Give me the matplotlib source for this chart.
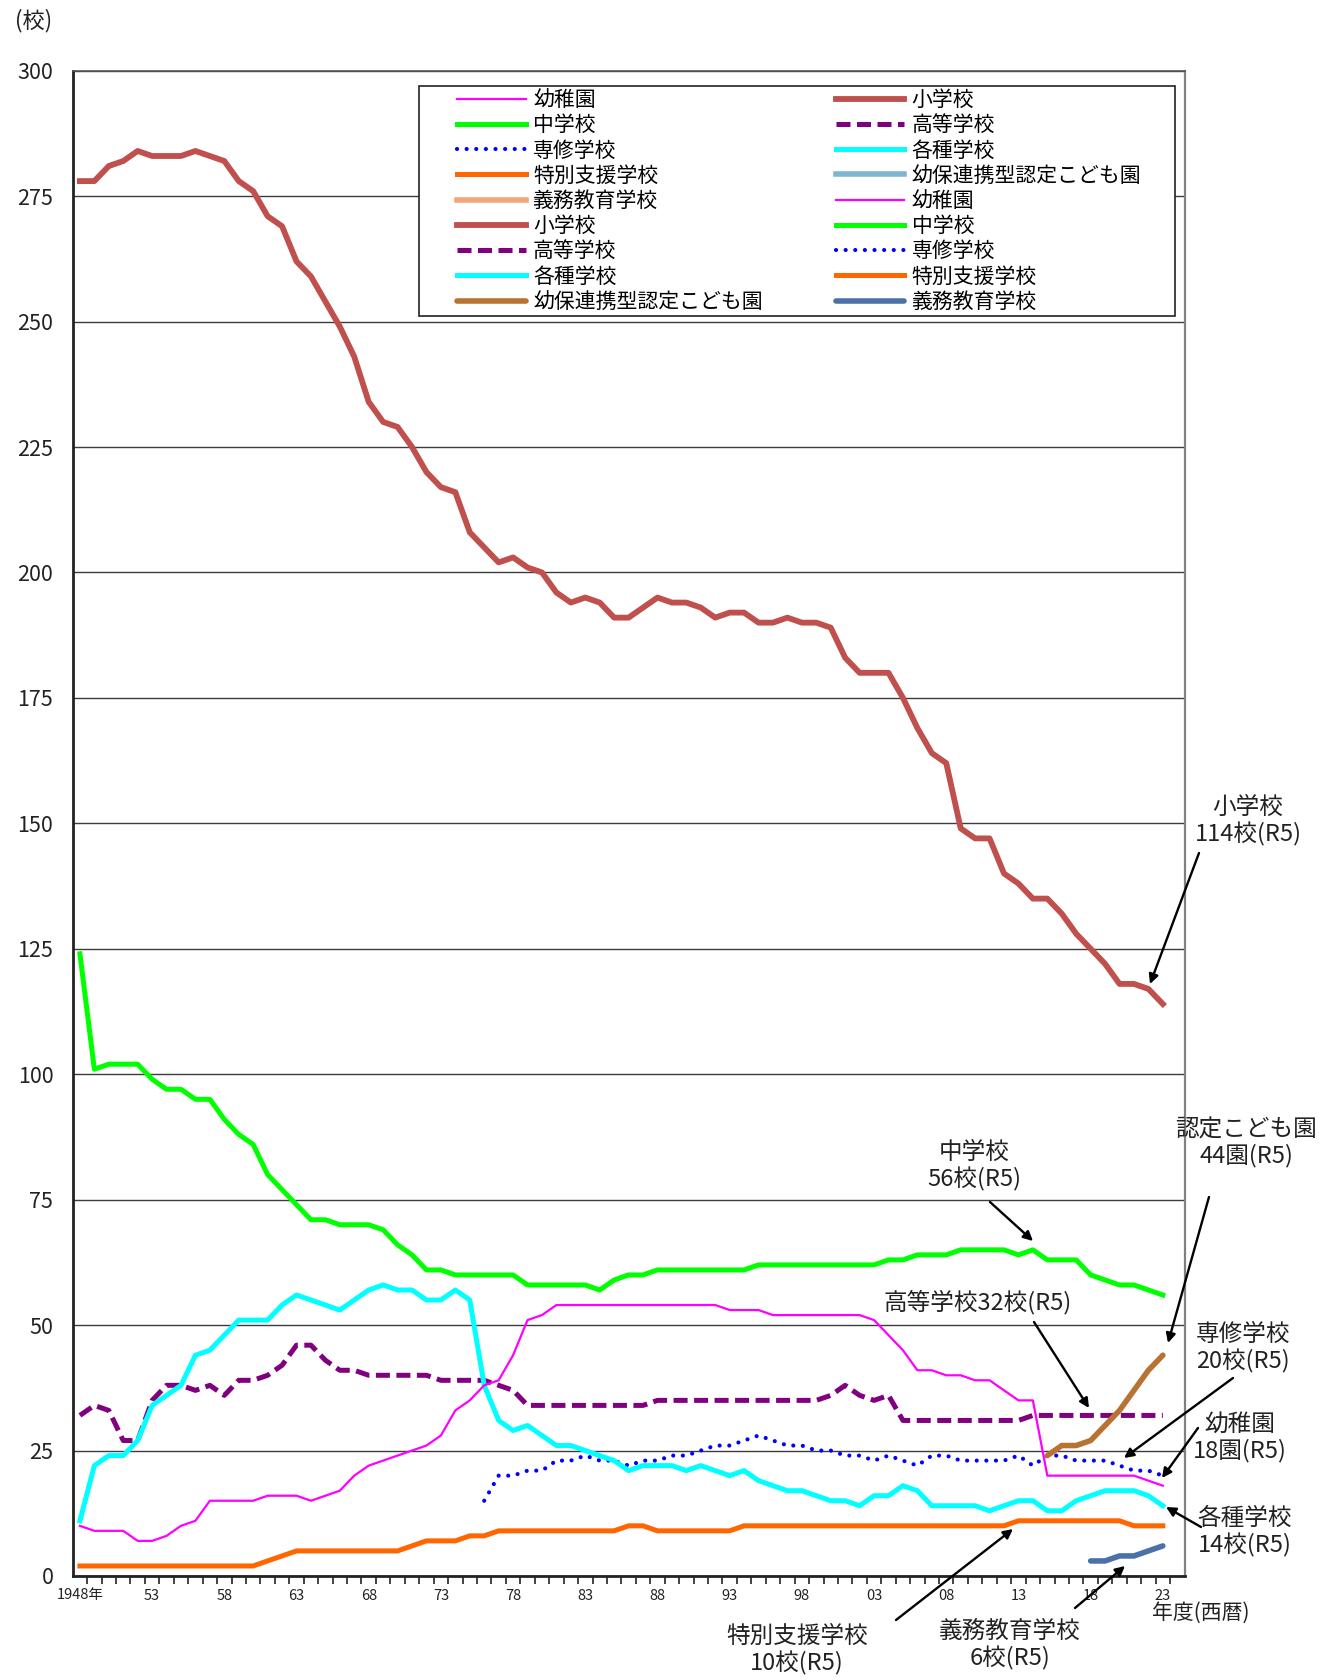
import matplotlib
matplotlib.use('Agg')
import matplotlib.pyplot as plt
from matplotlib.lines import Line2D
from matplotlib.patches import Rectangle
from matplotlib.ticker import MultipleLocator, FixedLocator

plt.rcParams['font.family'] = ['Noto Sans CJK JP', 'DejaVu Sans']

# ---- data ----
years = list(range(1948, 2024))

shogakko = [278, 278, 281, 282, 284, 283, 283, 283, 284, 283, 282, 278,
            276, 271, 269, 262, 259, 254, 249, 243, 234, 230,
            229, 225, 220, 217, 216, 208, 205, 202, 203, 201,
            200, 196, 194, 195, 194, 191, 191, 193, 195, 194,
            194, 193, 191, 192, 192, 190, 190, 191, 190, 190,
            189, 183, 180, 180, 180, 175, 169, 164, 162, 149,
            147, 147, 140, 138, 135, 135, 132, 128, 125, 122,
            118, 118, 117, 114]

chugakko = [124, 101, 102, 102, 102, 99, 97, 97, 95, 95, 91, 88,
            86, 80, 77, 74, 71, 71, 70, 70, 70, 69,
            66, 64, 61, 61, 60, 60, 60, 60, 60, 58,
            58, 58, 58, 58, 57, 59, 60, 60, 61, 61,
            61, 61, 61, 61, 61, 62, 62, 62, 62, 62,
            62, 62, 62, 62, 63, 63, 64, 64, 64, 65,
            65, 65, 65, 64, 65, 63, 63, 63, 60, 59,
            58, 58, 57, 56]

youchien = [10, 9, 9, 9, 7, 7, 8, 10, 11, 15, 15, 15,
            15, 16, 16, 16, 15, 16, 17, 20, 22, 23,
            24, 25, 26, 28, 33, 35, 38, 39, 44, 51,
            52, 54, 54, 54, 54, 54, 54, 54, 54, 54,
            54, 54, 54, 53, 53, 53, 52, 52, 52, 52,
            52, 52, 52, 51, 48, 45, 41, 41, 40, 40,
            39, 39, 37, 35, 35, 20, 20, 20, 20, 20,
            20, 20, 19, 18]

koto = [32, 34, 33, 27, 27, 35, 38, 38, 37, 38, 36, 39,
        39, 40, 42, 46, 46, 43, 41, 41, 40, 40,
        40, 40, 40, 39, 39, 39, 39, 38, 37, 34,
        34, 34, 34, 34, 34, 34, 34, 34, 35, 35,
        35, 35, 35, 35, 35, 35, 35, 35, 35, 35,
        36, 38, 36, 35, 36, 31, 31, 31, 31, 31,
        31, 31, 31, 31, 32, 32, 32, 32, 32, 32,
        32, 32, 32, 32]

kakushu = [11, 22, 24, 24, 27, 34, 36, 38, 44, 45, 48, 51,
           51, 51, 54, 56, 55, 54, 53, 55, 57, 58,
           57, 57, 55, 55, 57, 55, 38, 31, 29, 30,
           28, 26, 26, 25, 24, 23, 21, 22, 22, 22,
           21, 22, 21, 20, 21, 19, 18, 17, 17, 16,
           15, 15, 14, 16, 16, 18, 17, 14, 14, 14,
           14, 13, 14, 15, 15, 13, 13, 15, 16, 17,
           17, 17, 16, 14]

tokubetsu = [2, 2, 2, 2, 2, 2, 2, 2, 2, 2, 2, 2,
             2, 3, 4, 5, 5, 5, 5, 5, 5, 5,
             5, 6, 7, 7, 7, 8, 8, 9, 9, 9,
             9, 9, 9, 9, 9, 9, 10, 10, 9, 9,
             9, 9, 9, 9, 10, 10, 10, 10, 10, 10,
             10, 10, 10, 10, 10, 10, 10, 10, 10, 10,
             10, 10, 10, 11, 11, 11, 11, 11, 11, 11,
             11, 10, 10, 10]

senshu_years = list(range(1976, 2024))
senshu = [15, 20, 20, 21,
          21, 23, 23, 24, 23, 23, 22, 23, 23, 24,
          24, 25, 26, 26, 27, 28, 27, 26, 26, 25,
          25, 24, 24, 23, 24, 23, 22, 24, 24, 23,
          23, 23, 23, 24, 22, 24, 24, 23, 23, 23,
          22, 21, 21, 20]

kodomoen_years = list(range(2015, 2024))
kodomoen = [24, 26, 26, 27, 30, 33, 37, 41, 44]

gimu_years = list(range(2018, 2024))
gimu = [3, 3, 4, 4, 5, 6]

tick_years = list(range(1948, 2024, 5))
tick_labels = ['1948年'] + ['%02d' % (y % 100) for y in tick_years[1:]]

W, H = 1327, 1680

fig = plt.figure(figsize=(W / 100, H / 100), dpi=100)
ax = fig.add_axes([72.7 / W, 1 - 1576 / H, (1184.5 - 72.7) / W, (1576 - 70.7) / H])

# styles
st = {
    'youchien': dict(color='#FF00FF', lw=1.6),
    'shogakko': dict(color='#C0504D', lw=4.2),
    'chugakko': dict(color='#00FF00', lw=3.6),
    'koto': dict(color='#800080', lw=3.6, linestyle=(0, (2.8, 1.3))),
    'senshu': dict(color='#0000FF', lw=3.0, linestyle=(0, (0.01, 2.3)),
                   dash_capstyle='round'),
    'kakushu': dict(color='#00FFFF', lw=3.6),
    'tokubetsu': dict(color='#FF6600', lw=3.6),
    'kodomoen': dict(color='#B87333', lw=4.0, solid_capstyle='round'),
    'gimu': dict(color='#4A72A8', lw=4.0, solid_capstyle='round'),
}

ax.plot(years, koto, **st['koto'], zorder=3)
ax.plot(senshu_years, senshu, **st['senshu'], zorder=3)
ax.plot(years, kakushu, **st['kakushu'], zorder=3)
ax.plot(years, tokubetsu, **st['tokubetsu'], zorder=3)
ax.plot(years, youchien, **st['youchien'], zorder=4)
ax.plot(years, chugakko, **st['chugakko'], zorder=3)
ax.plot(years, shogakko, **st['shogakko'], zorder=3)
ax.plot(kodomoen_years, kodomoen, **st['kodomoen'], zorder=3)
ax.plot(gimu_years, gimu, **st['gimu'], zorder=3)

# axes
ax.set_xlim(1947.5, 2024.5)
ax.set_ylim(0, 300)
ax.yaxis.set_major_locator(MultipleLocator(25))
ax.yaxis.grid(True, color='#3c3c3c', lw=1.0)
ax.set_axisbelow(True)
ax.tick_params(axis='y', length=0, pad=14, labelsize=15.5, colors='#222222')

ax.xaxis.set_major_locator(FixedLocator(tick_years))
ax.set_xticklabels(tick_labels)
ax.xaxis.set_minor_locator(FixedLocator([y + 0.5 for y in range(1948, 2024)]))
ax.tick_params(axis='x', which='major', length=0, pad=9, labelsize=10.5, colors='#222222')
ax.tick_params(axis='x', which='minor', length=6, width=1.2, direction='out', color='#222222')

for side in ['left', 'bottom']:
    ax.spines[side].set_linewidth(2.0)
    ax.spines[side].set_color('#222222')
ax.spines['top'].set_color('#555555')
ax.spines['top'].set_linewidth(1.2)
ax.spines['right'].set_color('#808080')
ax.spines['right'].set_linewidth(1.6)

# legend (first block are the empty series the source chart lists)
def h(label, **kw):
    return Line2D([], [], label=label, **kw)

rows = [
    h('幼稚園', **st['youchien']), h('小学校', **st['shogakko']),
    h('中学校', **st['chugakko']), h('高等学校', **st['koto']),
    h('専修学校', **st['senshu']), h('各種学校', **st['kakushu']),
    h('特別支援学校', **st['tokubetsu']), h('幼保連携型認定こども園', color='#7FB5D0', lw=4.0),
    h('義務教育学校', color='#F5A57A', lw=4.0), h('幼稚園', **st['youchien']),
    h('小学校', **st['shogakko']), h('中学校', **st['chugakko']),
    h('高等学校', **st['koto']), h('専修学校', **st['senshu']),
    h('各種学校', **st['kakushu']), h('特別支援学校', **st['tokubetsu']),
    h('幼保連携型認定こども園', **st['kodomoen']), h('義務教育学校', **st['gimu']),
]
handles = rows[0::2] + rows[1::2]
leg = fig.legend(handles=handles, ncol=2, loc='upper left',
                 bbox_to_anchor=(457 / W, 1 - 89 / H), frameon=False,
                 fontsize=15, handlelength=3.3, handletextpad=0.35,
                 columnspacing=3.5, labelspacing=0.155, borderpad=0, borderaxespad=0)
fig.patches.append(Rectangle((419 / W, 1 - 316 / H), (1175 - 419) / W, (316 - 86) / H,
                             transform=fig.transFigure, fill=True, facecolor='white',
                             edgecolor='#222222', lw=1.2, zorder=0.5))

# annotations (figure pixel positions, y measured from top)
def fp(x, y):
    return (x, H - y)

arrow = dict(arrowstyle='-|>', color='black', lw=1.7, mutation_scale=14,
             shrinkA=0, shrinkB=0)
notes = [
    ('小学校\n114校(R5)', (1248, 821), (1199, 853), (1150, 984)),
    ('認定こども園\n44園(R5)', (1246, 1143), (1209, 1197), (1168, 1343)),
    ('中学校\n56校(R5)', (974, 1166), (990, 1202), (1033, 1241)),
    ('高等学校32校(R5)', (978, 1302), (1034, 1322), (1089, 1408)),
    ('専修学校\n20校(R5)', (1243, 1348), (1233, 1378), (1124, 1458)),
    ('幼稚園\n18園(R5)', (1240, 1438), (1198, 1428), (1162, 1478)),
    ('各種学校\n14校(R5)', (1245, 1532), (1201, 1527), (1166, 1507)),
    ('特別支援学校\n10校(R5)', (797, 1650), (896, 1620), (1013, 1529)),
    ('義務教育学校\n6校(R5)', (1010, 1645), (1075, 1608), (1125, 1566)),
]
for text, tpos, a0, a1 in notes:
    fig.text(tpos[0] / W, 1 - tpos[1] / H, text, ha='center', va='center',
             fontsize=17, linespacing=1.15, color='#222222')
    ax.annotate('', xy=fp(*a1), xytext=fp(*a0), xycoords='figure pixels',
                textcoords='figure pixels', arrowprops=arrow, annotation_clip=False)

fig.text(34 / W, 1 - 21 / H, '(校)', ha='center', va='center', fontsize=16, color='#222222')
fig.text(1201 / W, 1 - 1613 / H, '年度(西暦)', ha='center', va='center', fontsize=15,
         color='#222222')

fig.savefig('out.png', dpi=100, facecolor='white')
